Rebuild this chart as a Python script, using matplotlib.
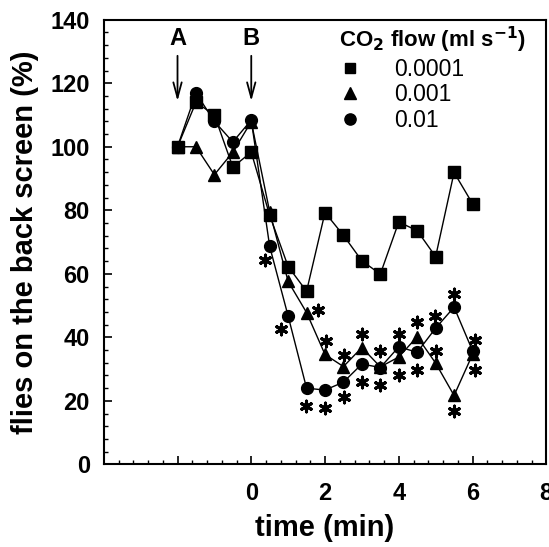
import numpy as np
import matplotlib
matplotlib.use('Agg')
import matplotlib.pyplot as plt
from matplotlib.ticker import MultipleLocator, FixedLocator

plt.rcParams['font.family'] = ['Liberation Sans', 'DejaVu Sans']

# time points (min)
time = [-2, -1.5, -1, -0.5, 0, 0.5, 1, 1.5, 2, 2.5, 3, 3.5, 4, 4.5, 5, 5.5, 6]

# flies on the back screen (%) for each CO2 flow
flow_0001 = [100, 114, 110, 93.6, 98.3, 78.4, 62.3, 54.5, 79.3, 72.1, 64.1, 59.9, 76.3, 73.6, 65.4, 91.9, 82.1]
flow_001 = [100, 100, 91.2, 98.3, 107.9, 79.5, 57.6, 47.8, 34.6, 30.8, 36.8, 30.7, 33.8, 40.2, 31.9, 21.7, 34.6]
flow_01 = [100, 116.9, 108, 101.5, 108.4, 68.6, 46.7, 24, 23.4, 25.9, 31.6, 30.5, 37, 35.3, 42.9, 49.5, 35.8]

series_labels = ['0.0001', '0.001', '0.01']

# significance asterisks (x, y)
star_x = [0.38, 0.82, 1.49, 1.99, 2.51, 1.8, 2.04, 2.51, 3.0, 3.0, 3.5, 3.5, 4.0, 4.0,
          4.49, 4.49, 4.98, 5.0, 5.5, 5.5, 6.06, 6.06]
star_y = [64.5, 42.6, 18.4, 17.9, 21.2, 48.6, 39.0, 34.3, 40.9, 25.9, 35.7, 25.0, 40.9, 28.3,
          44.8, 29.6, 46.6, 35.7, 53.8, 16.8, 39.3, 29.7]

# event markers
events = ['A', 'B']
event_x = [-2, 0]

fig = plt.figure(figsize=(5.49, 5.47), dpi=100)
ax = fig.add_axes([0.189, 0.151, 0.806, 0.813])

ax.plot(time, flow_0001, color='black', lw=1, marker='s', ms=8, label=series_labels[0])
ax.plot(time, flow_001, color='black', lw=1, marker='^', ms=8.5, label=series_labels[1])
ax.plot(time, flow_01, color='black', lw=1, marker='o', ms=8.5, label=series_labels[2])

ax.scatter(star_x, star_y, marker=(6, 2, 0), s=60, color='black', linewidths=2.2)

for lab, ex in zip(events, event_x):
    ax.annotate('', xy=(ex, 113.5), xytext=(ex, 129.5),
                arrowprops=dict(arrowstyle='->,head_length=1.1,head_width=0.3', color='black', lw=1.3))
    ax.text(ex, 130.5, lab, ha='center', va='bottom', fontsize=17, fontweight='bold')

ax.set_xlim(-4, 8)
ax.set_ylim(0, 140)
ax.xaxis.set_major_locator(FixedLocator([-4, -2, 0, 2, 4, 6, 8]))
ax.set_xticklabels(['', '', '0', '2', '4', '6', '8'])
ax.xaxis.set_minor_locator(MultipleLocator(0.4))
ax.yaxis.set_major_locator(MultipleLocator(20))
ax.yaxis.set_minor_locator(MultipleLocator(4))
ax.tick_params(which='major', direction='in', length=6, width=1.2, labelsize=17, pad=10)
ax.tick_params(which='minor', direction='in', length=3, width=1)
ax.tick_params(axis='x', pad=13)
for t in ax.get_xticklabels() + ax.get_yticklabels():
    t.set_fontweight('bold')
for s in ax.spines.values():
    s.set_linewidth(1.5)

ax.set_xlabel('time (min)', fontsize=21, fontweight='bold', labelpad=6)
ax.set_ylabel('flies on the back screen (%)', fontsize=21, fontweight='bold', labelpad=8)

leg = ax.legend(loc='upper right', bbox_to_anchor=(1.0, 1.035), frameon=False, fontsize=16.5,
                title='CO$_\\mathbf{2}$ flow (ml s$^{\\mathbf{-1}}$)', title_fontsize=16,
                alignment='left', handletextpad=1.4, labelspacing=0.12, handlelength=1.0,
                markerscale=0.95)
leg.get_title().set_fontweight('bold')
for line in leg.get_lines():
    line.set_linestyle('none')

fig.savefig('out.png', dpi=100)
